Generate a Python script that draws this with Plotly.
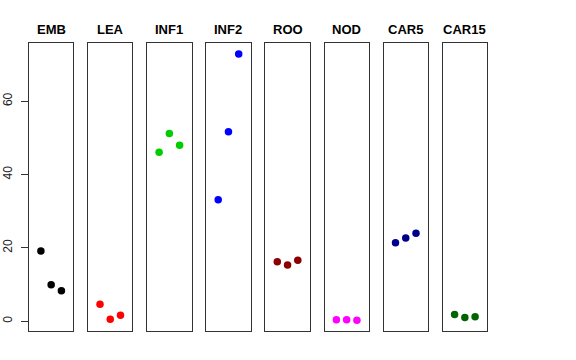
import plotly.graph_objects as go

categories = ["EMB", "LEA", "INF1", "INF2", "ROO", "NOD", "CAR5", "CAR15"]
replicates = [1, 2, 3]
values = {
    "EMB": [19.1, 9.9, 8.3],
    "LEA": [4.6, 0.5, 1.6],
    "INF1": [46.1, 51.2, 48.0],
    "INF2": [33.1, 51.7, 72.9],
    "ROO": [16.2, 15.3, 16.6],
    "NOD": [0.35, 0.35, 0.2],
    "CAR5": [21.4, 22.7, 24.0],
    "CAR15": [1.8, 1.0, 1.2],
}
colors = ["#000000", "#FF0000", "#00CD00", "#0000FF", "#8B0000", "#FF00FF", "#00008B", "#006400"]
y_ticks = [0, 20, 40, 60]

W, H = 576, 360
left0, pw, step = 29.0, 44.3, 59.1
top_px, bot_px = 43.3, 331.0

allv = [v for k in categories for v in values[k]]
ymin, ymax = min(allv), max(allv)
pad = (ymax - ymin) * 0.04
yr = [ymin - pad, ymax + pad]
xr = [0 - 0.16, 4 + 0.16]

fig = go.Figure()
annotations = []
for i, cat in enumerate(categories):
    xa = "x" if i == 0 else f"x{i+1}"
    ya = "y" if i == 0 else f"y{i+1}"
    fig.add_trace(go.Scatter(
        x=replicates, y=values[cat], mode="markers",
        marker=dict(color=colors[i], size=7.5),
        xaxis=xa, yaxis=ya, showlegend=False, hoverinfo="skip"))
    l = left0 + i * step
    dom = [l / W, (l + pw) / W]
    xkey = "xaxis" if i == 0 else f"xaxis{i+1}"
    ykey = "yaxis" if i == 0 else f"yaxis{i+1}"
    fig.layout[xkey] = dict(domain=dom, range=xr, showticklabels=False, ticks="",
                            showgrid=False, zeroline=False, showline=True, mirror=True,
                            linecolor="#333333", linewidth=1,
                            anchor=ya)
    ydict = dict(domain=[(H - bot_px) / H, (H - top_px) / H], range=yr,
                 showgrid=False, zeroline=False, showline=True, mirror=True,
                 linecolor="#333333", linewidth=1, anchor=xa)
    if i == 0:
        ydict.update(tickvals=y_ticks, ticks="outside", ticklen=7, tickcolor="#333333",
                     tickangle=-90, tickfont=dict(family="Liberation Sans", size=12, color="#222222"),
                     ticklabelstandoff=4)
    else:
        ydict.update(showticklabels=False, ticks="")
    fig.layout[ykey] = ydict
    annotations.append(dict(text=f"<b>{cat}</b>", x=(l + pw / 2) / W, y=(H - 29) / H,
                            xref="paper", yref="paper", showarrow=False,
                            xanchor="center", yanchor="middle",
                            font=dict(family="Liberation Sans", size=13, color="#000000")))

fig.update_layout(width=W, height=H, margin=dict(l=0, r=0, t=0, b=0),
                  paper_bgcolor="white", plot_bgcolor="white", annotations=annotations)
fig.write_html("out.html", config={"displayModeBar": False},
               post_script="document.body.style.margin='0px';")
